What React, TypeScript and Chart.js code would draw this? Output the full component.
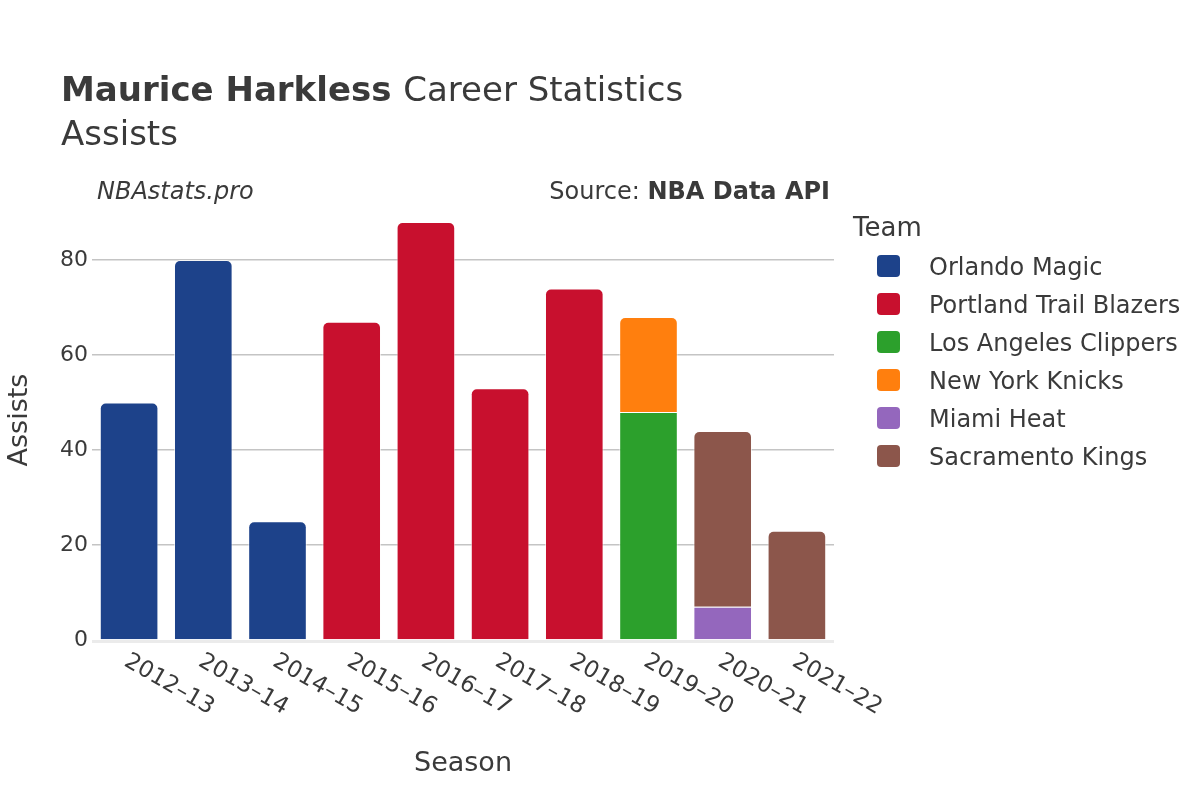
import React, { useEffect, useRef } from 'react';
import { Chart, registerables } from 'chart.js';

Chart.register(...registerables);

const seasons = ['2012–13', '2013–14', '2014–15', '2015–16', '2016–17', '2017–18', '2018–19', '2019–20', '2020–21', '2021–22'];
const teams = ['Orlando Magic', 'Portland Trail Blazers', 'Los Angeles Clippers', 'New York Knicks', 'Miami Heat', 'Sacramento Kings'];
const teamColors = ['#1d428a', '#c8102e', '#2ca02c', '#ff7f0e', '#9467bd', '#8c564b'];

const orlandoMagic = [50, 80, 25, null, null, null, null, null, null, null];
const portlandTrailBlazers = [null, null, null, 67, 88, 53, 74, null, null, null];
const losAngelesClippers = [null, null, null, null, null, null, null, 48, null, null];
const newYorkKnicks = [null, null, null, null, null, null, null, 20, null, null];
const miamiHeat = [null, null, null, null, null, null, null, null, 7, null];
const sacramentoKings = [null, null, null, null, null, null, null, null, 37, 23];

const seriesValues = [orlandoMagic, portlandTrailBlazers, losAngelesClippers, newYorkKnicks, miamiHeat, sacramentoKings];
const yTickValues = [0, 20, 40, 60, 80];
const yMax = 92.63;

const FONT = '"DejaVu Sans", sans-serif';
const TEXT = '#3a3a3a';

const textPlugin = {
  id: 'customText',
  afterDatasetsDraw(chart: any) {
    const { ctx, chartArea } = chart;
    const y0 = chart.scales.y.getPixelForValue(0);
    ctx.save();
    ctx.strokeStyle = '#ebebeb';
    ctx.lineWidth = 3;
    ctx.beginPath();
    ctx.moveTo(chartArea.left, y0 + 1.5);
    ctx.lineTo(chartArea.right, y0 + 1.5);
    ctx.stroke();
    ctx.restore();
  },
  afterDraw(chart: any) {
    const { ctx } = chart;
    const xs = chart.scales.x;
    ctx.save();
    ctx.fillStyle = TEXT;
    ctx.textBaseline = 'alphabetic';
    ctx.textAlign = 'left';

    // Title
    ctx.font = `bold 34px ${FONT}`;
    const boldTxt = 'Maurice Harkless';
    ctx.fillText(boldTxt, 61, 101);
    const bw = ctx.measureText(boldTxt + ' ').width;
    ctx.font = `34px ${FONT}`;
    ctx.fillText('Career Statistics', 61 + bw, 101);
    ctx.fillText('Assists', 61, 145);

    // Sub annotations
    ctx.font = `italic 24px ${FONT}`;
    ctx.fillText('NBAstats.pro', 97, 199);
    ctx.textAlign = 'right';
    ctx.font = `bold 24px ${FONT}`;
    const srcB = 'NBA Data API';
    ctx.fillText(srcB, 830, 199);
    const sw = ctx.measureText(srcB).width;
    ctx.font = `24px ${FONT}`;
    ctx.fillText('Source: ', 830 - sw, 199);

    // Legend
    ctx.textAlign = 'left';
    ctx.font = `26px ${FONT}`;
    ctx.fillText('Team', 853, 236);
    ctx.font = `24px ${FONT}`;
    teams.forEach((t, i) => {
      const yc = 266 + 38 * i;
      ctx.fillStyle = teamColors[i];
      ctx.beginPath();
      (ctx as any).roundRect(877, yc - 11, 23, 22, 4);
      ctx.fill();
      ctx.fillStyle = TEXT;
      ctx.fillText(t, 929, yc + 9);
    });

    // Axis titles
    ctx.font = `27px ${FONT}`;
    ctx.textAlign = 'center';
    ctx.fillText('Season', 463, 771);
    ctx.save();
    ctx.translate(27, 420);
    ctx.rotate(-Math.PI / 2);
    ctx.fillText('Assists', 0, 0);
    ctx.restore();

    // X tick labels (rotated downward)
    ctx.font = `23px ${FONT}`;
    ctx.textAlign = 'left';
    seasons.forEach((s, i) => {
      const x = xs.getPixelForValue(i);
      ctx.save();
      ctx.translate(x - 6, 665);
      ctx.rotate(Math.PI / 6);
      ctx.fillText(s, 0, 0);
      ctx.restore();
    });
    ctx.restore();
  },
};

export default function App() {
  const canvasRef = useRef<HTMLCanvasElement | null>(null);

  useEffect(() => {
    if (!canvasRef.current) return;
    const datasets = teams.map((t, d) => ({
      label: t,
      data: seriesValues[d],
      backgroundColor: teamColors[d],
      borderColor: 'rgba(255,255,255,0.6)',
      borderWidth: 1,
      borderSkipped: 'start' as const,
      borderRadius: (ctx: any) => {
        const i = ctx.dataIndex;
        const later = seriesValues.slice(d + 1).some((s) => s[i] != null);
        return later ? 0 : { topLeft: 6, topRight: 6, bottomLeft: 0, bottomRight: 0 };
      },
      barPercentage: 0.79,
      categoryPercentage: 1,
    }));

    const chart = new Chart(canvasRef.current, {
      type: 'bar',
      data: { labels: seasons, datasets },
      options: {
        responsive: false,
        animation: false,
        layout: { padding: { left: 0, right: 366, top: 200, bottom: 0 } },
        plugins: { legend: { display: false }, title: { display: false }, tooltip: { enabled: false } },
        scales: {
          x: {
            stacked: true,
            grid: { display: false },
            border: { display: false },
            ticks: { display: false },
            afterFit: (scale: any) => { scale.height = 160; },
          },
          y: {
            stacked: true,
            min: 0,
            max: yMax,
            border: { display: false },
            grid: {
              drawTicks: false,
              color: (c: any) => (c.tick && c.tick.value === 0 ? 'rgba(0,0,0,0)' : '#c4c4c4'),
              lineWidth: 1.5,
            },
            ticks: {
              stepSize: 20,
              padding: 4,
              color: TEXT,
              font: { family: FONT, size: 22 },
            },
            afterBuildTicks: (scale: any) => {
              scale.ticks = yTickValues.map((v) => ({ value: v }));
            },
            afterFit: (scale: any) => { scale.width = 92; },
          },
        },
      },
      plugins: [textPlugin],
    });
    return () => chart.destroy();
  }, []);

  return (
    <div style={{ position: 'absolute', left: 0, top: 0, width: 1200, height: 800, background: '#fff' }}>
      <canvas ref={canvasRef} width={1200} height={800} style={{ width: 1200, height: 800 }} />
    </div>
  );
}
